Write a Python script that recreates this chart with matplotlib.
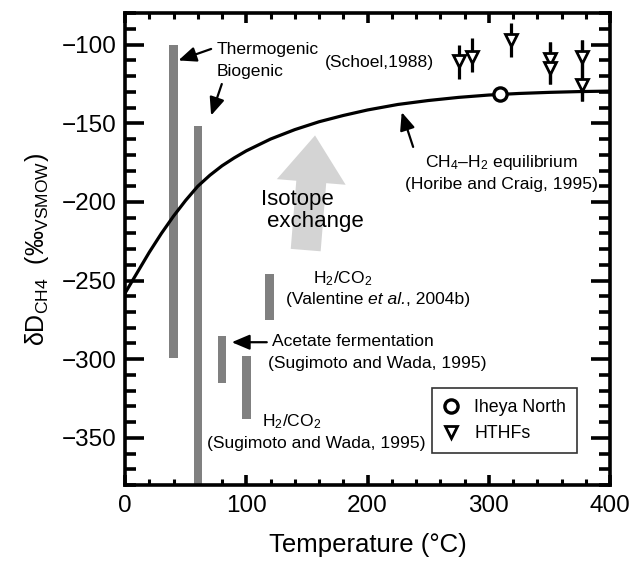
import matplotlib
matplotlib.use("Agg")
import matplotlib.pyplot as plt
from matplotlib.patches import FancyArrowPatch, ArrowStyle
from matplotlib.lines import Line2D

plt.rcParams['font.family'] = ['Liberation Sans', 'DejaVu Sans']
plt.rcParams['mathtext.fontset'] = 'custom'
plt.rcParams['mathtext.rm'] = 'Liberation Sans'
plt.rcParams['mathtext.it'] = 'Liberation Sans:italic'
plt.rcParams['mathtext.bf'] = 'Liberation Sans:bold'

# ---- data ----
# gray range bars (temperature, top, bottom)
bar_T = [40, 60, 80, 100, 119]
bar_top = [-100, -152, -285, -298, -246]
bar_bottom = [-299, -380, -315, -338, -275]

# CH4-H2 equilibrium curve (Horibe and Craig, 1995)
eq_T = [0, 10, 20, 30, 40, 50, 60, 70, 80, 90, 100, 120, 140, 160, 180, 200,
        225, 250, 275, 300, 325, 350, 375, 400]
eq_d = [-258, -245, -232, -220, -209, -199, -190, -183, -177, -172, -167.5,
        -160, -154, -149, -145, -141.5, -138, -135.5, -133.5, -132, -131,
        -130.3, -129.8, -129.5]

# Iheya North
ih_T = [309]
ih_d = [-131.5]

# HTHFs
hthf_T = [275.5, 286.5, 318, 350.5, 350.5, 376.5, 376.5]
hthf_d = [-110.6, -108, -97, -109, -114.5, -107.5, -125.5]
hthf_top = [-100, -96, -86, -98.5, -98.5, -97, -97]
hthf_bottom = [-122, -117.5, -108, -125, -125, -136, -136]

x_ticks = [0, 100, 200, 300, 400]
y_ticks = [-100, -150, -200, -250, -300, -350]

# ---- figure ----
fig = plt.figure(figsize=(6.35, 5.62), dpi=100)
ax = fig.add_axes([0.1969, 0.137, 0.7638, 0.8394])

ax.set_xlim(0, 400)
ax.set_ylim(-380, -80)

# big isotope exchange arrow
arr = FancyArrowPatch((149, -230.6), (156.7, -157.7),
                      arrowstyle=ArrowStyle.Simple(head_length=33.6, head_width=49.7, tail_width=21.6),
                      mutation_scale=1, color='#d4d4d4', lw=0, shrinkA=0, shrinkB=0, zorder=1)
ax.add_patch(arr)

# bars
ax.bar(bar_T, [t - b for t, b in zip(bar_top, bar_bottom)], bottom=bar_bottom,
       width=7, color='#808080', zorder=2)

# equilibrium curve
ax.plot(eq_T, eq_d, color='black', lw=2.3, zorder=3, solid_capstyle='round')

# HTHFs
ax.vlines(hthf_T, hthf_bottom, hthf_top, color='black', lw=2.3, zorder=4)
ax.plot(hthf_T, hthf_d, linestyle='none', marker='v', ms=9, mfc='white',
        mec='black', mew=2.0, zorder=5)

# Iheya North
ax.plot(ih_T, ih_d, linestyle='none', marker='o', ms=9.5, mfc='white',
        mec='black', mew=2.4, zorder=6)

# small arrows
aprops = dict(arrowstyle='-|>,head_length=0.9,head_width=0.38', mutation_scale=12,
              lw=1.6, color='black', shrinkA=0, shrinkB=0)
ax.annotate('', xy=(44, -110), xytext=(71, -102.7), arrowprops=aprops)
ax.annotate('', xy=(71, -145), xytext=(79.8, -125), arrowprops=aprops)
ax.annotate('', xy=(228.2, -142.9), xytext=(237.6, -165), arrowprops=aprops)
ax.annotate('', xy=(88, -289.2), xytext=(116.9, -289.2), arrowprops=aprops)

fs = 12.6
ax.text(75.6, -105.9, 'Thermogenic', fontsize=fs, va='baseline', ha='left')
ax.text(75.6, -120.1, 'Biogenic', fontsize=fs, va='baseline', ha='left')
ax.text(165, -114, '(Schoel,1988)', fontsize=fs, va='baseline', ha='left')
ax.text(247.4, -177.8, 'CH$_4$\u2013H$_2$ equilibrium', fontsize=fs, va='baseline', ha='left')
ax.text(230.9, -191.5, '(Horibe and Craig, 1995)', fontsize=fs, va='baseline', ha='left')
ax.text(112.2, -202.1, 'Isotope', fontsize=16, va='baseline', ha='left', zorder=7)
ax.text(116.9, -215.9, 'exchange', fontsize=16, va='baseline', ha='left', zorder=7)
ax.text(155.3, -251.7, 'H$_2$/CO$_2$', fontsize=fs, va='baseline', ha='left')
t1 = ax.text(132.8, -264.9, '(Valentine ', fontsize=fs, va='baseline', ha='left')
t2 = ax.annotate('et al.', xy=(1, 0), xycoords=t1, fontsize=fs, style='italic',
                 va='bottom', ha='left')
ax.annotate(', 2004b)', xy=(1, 0), xycoords=t2, fontsize=fs, va='bottom', ha='left')
ax.text(121, -291.3, 'Acetate fermentation', fontsize=fs, va='baseline', ha='left')
ax.text(118.2, -305.5, '(Sugimoto and Wada, 1995)', fontsize=fs, va='baseline', ha='left')
ax.text(112.7, -342.7, 'H$_2$/CO$_2$', fontsize=fs, va='baseline', ha='left')
ax.text(67.4, -356.4, '(Sugimoto and Wada, 1995)', fontsize=fs, va='baseline', ha='left')

# legend
handles = [Line2D([], [], linestyle='none', marker='o', ms=9.5, mfc='white', mec='black', mew=2.4),
           Line2D([], [], linestyle='none', marker='v', ms=9, mfc='white', mec='black', mew=2.0)]
leg = ax.legend(handles, ['Iheya North', 'HTHFs'], loc='lower left',
                bbox_to_anchor=(0.632, 0.0685), borderaxespad=0, fontsize=12.8,
                frameon=True, fancybox=False, handlelength=1.0, handletextpad=0.8,
                labelspacing=0.5, borderpad=0.6)
leg.get_frame().set_edgecolor('black')
leg.get_frame().set_linewidth(1.2)
leg.set_zorder(8)

# axes styling
for s in ax.spines.values():
    s.set_linewidth(2.6)
ax.set_xticks(x_ticks)
ax.set_yticks(y_ticks)
ax.set_xticks(range(0, 401, 20), minor=True)
ax.set_yticks(range(-380, -79, 10), minor=True)
ax.tick_params(axis='both', which='both', direction='in', top=True, right=True)
ax.tick_params(axis='x', which='major', length=7, width=2.6, labelsize=17.5, pad=7)
ax.tick_params(axis='x', which='minor', length=4, width=2.2)
ax.tick_params(axis='y', which='major', length=14, width=2.6, labelsize=17.5, pad=6)
ax.tick_params(axis='y', which='minor', length=8, width=2.6)

ax.set_xlabel('Temperature (\u00b0C)', fontsize=18.5, labelpad=12)
ax.set_ylabel('\u03b4D$_{\\mathrm{CH4}}$  (\u2030$_{\\mathrm{VSMOW}}$)', fontsize=18, labelpad=8)

fig.savefig('out.png', dpi=100)
